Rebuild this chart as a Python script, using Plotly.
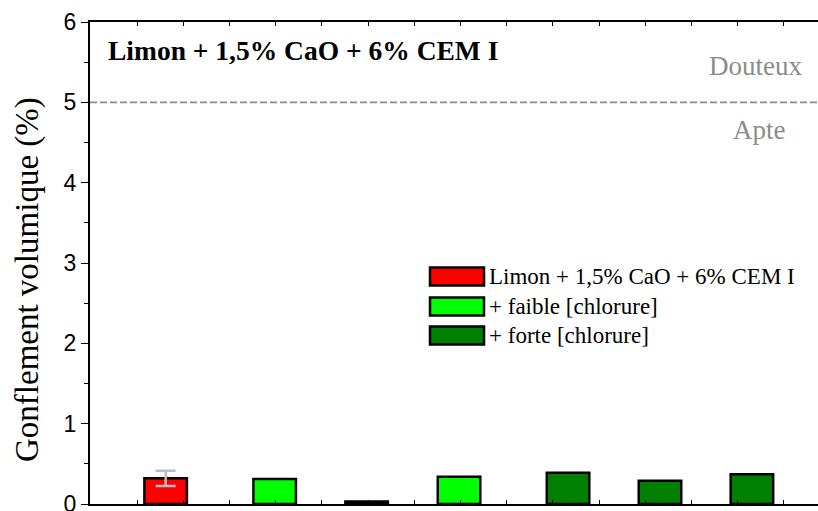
import plotly.graph_objects as go

# ---- data ----
series_names = ["Limon + 1,5% CaO + 6% CEM I", "+ faible [chlorure]", "+ forte [chlorure]"]
series_colors = ["#FF0000", "#00FF00", "#008000"]
x_ref = [0.62]
y_ref = [0.32]
err_ref = [0.095]
x_faible = [2.98, 6.97]
y_faible = [0.31, 0.34]
x_forte = [4.97, 9.33, 11.32, 13.31]
y_forte = [0.03, 0.39, 0.29, 0.37]
y_ticks = [0, 1, 2, 3, 4, 5, 6]
threshold = 5
title_text = "Limon + 1,5% CaO + 6% CEM I"
y_title = "Gonflement volumique (%)"

fig = go.Figure()
bar_w = 0.92
line_style = dict(color="black", width=2.5)
fig.add_trace(go.Bar(x=x_ref, y=y_ref, width=bar_w, name=series_names[0],
                     marker=dict(color=series_colors[0], line=line_style),
                     error_y=dict(type="data", array=err_ref, color="#BDBDBD", thickness=2.5, width=10)))
fig.add_trace(go.Bar(x=x_faible, y=y_faible, width=bar_w, name=series_names[1],
                     marker=dict(color=series_colors[1], line=line_style)))
fig.add_trace(go.Bar(x=x_forte, y=y_forte, width=bar_w, name=series_names[2],
                     marker=dict(color=series_colors[2], line=line_style)))

W, H = 818, 511
L, R, T, B = 90, 0, 22, 7
pw, ph = W - L - R, H - T - B

def px(xp):
    return (xp - L) / pw

def py(yp):
    return (H - B - yp) / ph

# threshold line
fig.add_shape(type="line", xref="paper", yref="y", x0=0, x1=1, y0=threshold, y1=threshold,
              line=dict(color="#8C8C8C", width=1.8, dash="7px,3px"))

serif = "Liberation Serif, Times New Roman, serif"
annotations = [
    dict(text="<b>" + title_text + "</b>", x=px(106), y=py(50), xanchor="left", yanchor="middle",
         font=dict(family=serif, size=27.5, color="black")),
    dict(text="Douteux", x=px(804), y=py(66), xanchor="right", yanchor="middle",
         font=dict(family=serif, size=27, color="#8C8C8C")),
    dict(text="Apte", x=px(788), y=py(130), xanchor="right", yanchor="middle",
         font=dict(family=serif, size=27, color="#8C8C8C")),
    dict(text=y_title, x=px(27), y=py(280), xanchor="center", yanchor="middle", textangle=-90,
         font=dict(family=serif, size=33, color="black")),
]

# manual legend
row_centers = [276.5, 306.5, 335.5]
for name, color, cy in zip(series_names, series_colors, row_centers):
    fig.add_shape(type="rect", xref="paper", yref="paper",
                  x0=px(430), x1=px(484), y0=py(cy - 9), y1=py(cy + 9),
                  fillcolor=color, line=dict(color="black", width=2.5))
    annotations.append(dict(text=name, x=px(487), y=py(cy), xanchor="left", yanchor="middle",
                            font=dict(family=serif, size=23, color="black")))

for a in annotations:
    a.update(xref="paper", yref="paper", showarrow=False)

fig.update_layout(
    width=W, height=H, margin=dict(l=L, r=R, t=T, b=B, autoexpand=False),
    paper_bgcolor="white", plot_bgcolor="white",
    showlegend=False, barmode="overlay",
    annotations=annotations,
    xaxis=dict(range=[-47 / 46.2, (818 - 137) / 46.2], showgrid=False, zeroline=False,
               showline=True, linecolor="black", linewidth=1.5, mirror="ticks",
               ticks="inside", ticklen=4, tickcolor="black", tickwidth=1,
               tick0=0, dtick=1, showticklabels=False, automargin=False),
    yaxis=dict(range=[0, 6], showgrid=False, zeroline=False, automargin=False,
               showline=True, linecolor="black", linewidth=2,
               ticks="outside", ticklen=7, tickwidth=1, tickcolor="black",
               tickvals=y_ticks, ticklabeloverflow="allow",
               tickfont=dict(family="Liberation Sans, Arial, sans-serif", size=23, color="black"),
               minor=dict(ticks="outside", ticklen=4, tickcolor="black", dtick=0.5, tickwidth=1)),
)

fig.write_html("out.html", config={"displayModeBar": False},
               post_script="document.body.style.margin='0px';")
